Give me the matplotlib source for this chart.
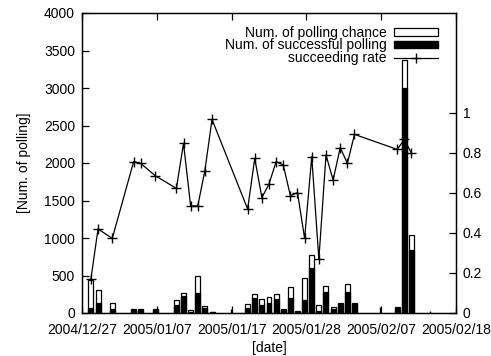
import matplotlib
matplotlib.use('Agg')
import matplotlib.pyplot as plt
import numpy as np
import pandas as pd
from matplotlib.patches import Patch
from matplotlib.lines import Line2D

plt.rcParams['font.family'] = ['Liberation Sans', 'DejaVu Sans']

# ---- data ----
dates = ['2004-12-28', '2004-12-29', '2004-12-31', '2005-01-03', '2005-01-04',
         '2005-01-06', '2005-01-09', '2005-01-10', '2005-01-11', '2005-01-12',
         '2005-01-13', '2005-01-14', '2005-01-19', '2005-01-20', '2005-01-21',
         '2005-01-22', '2005-01-23', '2005-01-24', '2005-01-25', '2005-01-26',
         '2005-01-27', '2005-01-28', '2005-01-29', '2005-01-30', '2005-01-31',
         '2005-02-01', '2005-02-02', '2005-02-03', '2005-02-09', '2005-02-10',
         '2005-02-11']
chance = [440, 310, 130, 50, 50, 50, 175, 270, 35, 500, 95, 20, 120, 255, 185,
          208, 250, 53, 343, 25, 470, 770, 107, 360, 76, 138, 382, 138, 75,
          3380, 1040]
success = [70, 130, 48, 40, 38, 36, 108, 230, 19, 265, 68, 19, 62, 198, 107,
           135, 190, 40, 200, 15, 175, 600, 29, 285, 50, 115, 286, 125, 62,
           3000, 835]
rate = [0.17, 0.42, 0.373, 0.757, 0.748, 0.687, 0.623, 0.848, 0.535, 0.535,
        0.712, 0.968, 0.52, 0.773, 0.577, 0.645, 0.757, 0.74, 0.587, 0.602,
        0.373, 0.782, 0.268, 0.79, 0.665, 0.827, 0.748, 0.893, 0.818, 0.868,
        0.798]
spike_dates = ['2005-01-17', '2005-02-07', '2005-02-14']
spike_values = [50, 80, 25]

tick_labels = ['2004/12/27', '2005/01/07', '2005/01/17', '2005/01/28',
               '2005/02/07', '2005/02/18']
y_ticks = [0, 500, 1000, 1500, 2000, 2500, 3000, 3500, 4000]
y2_ticks = [0, 0.2, 0.4, 0.6, 0.8, 1.0]
y2_labels = ['0', '0.2', '0.4', '0.6', '0.8', '1']

# ---- coordinates (days from 2004-12-27 12:00) ----
origin = pd.Timestamp('2004-12-27 12:00')


def to_days(ds, hours):
    return np.array([(pd.Timestamp(d) - origin) / pd.Timedelta(days=1)
                     for d in ds]) + hours / 24.0


x = to_days(dates, 18)
xs = to_days(spike_dates, 8.4)
tick_pos = np.arange(len(tick_labels)) * 10.5

fig = plt.figure(figsize=(4.91, 3.56), dpi=100)
ax = fig.add_axes([82 / 491, 43 / 356, 374 / 491, 300 / 356])

ax.bar(x, chance, width=0.7, color='white', edgecolor='black', linewidth=0.9,
       zorder=2)
ax.bar(x, success, width=0.7, color='black', edgecolor='black', linewidth=0.9,
       zorder=3)
ax.vlines(xs, 0, spike_values, color='black', linewidth=1.0, zorder=3)

ax.set_xlim(0, 52.5)
ax.set_ylim(0, 4000)
ax.set_xticks(tick_pos)
ax.set_xticklabels(tick_labels, fontsize=10)
ax.set_yticks(y_ticks)
ax.set_yticklabels([str(v) for v in y_ticks], fontsize=10)
ax.tick_params(direction='in', length=5, width=0.9, top=True, right=False)
ax.tick_params(axis='x', pad=7)
ax.tick_params(axis='y', pad=5)
ax.set_xlabel('[date]', fontsize=10, labelpad=3)
ax.set_ylabel('[Num. of polling]', fontsize=10, labelpad=9)
for s in ax.spines.values():
    s.set_linewidth(1.0)

ax2 = ax.twinx()
ax2.plot(x, rate, color='black', linewidth=0.9, marker='+', markersize=7,
         markeredgewidth=1.0, zorder=4)
ax2.set_ylim(0, 1.5)
ax2.set_yticks(y2_ticks)
ax2.set_yticklabels(y2_labels, fontsize=10)
ax2.tick_params(direction='in', length=5, width=0.9, pad=5)

handles = [Patch(facecolor='white', edgecolor='black', linewidth=0.9),
           Patch(facecolor='black', edgecolor='black'),
           Line2D([], [], color='black', linewidth=0.9, marker='+',
                  markersize=7, markeredgewidth=1.0)]
labels = ['Num. of polling chance', 'Num. of successful polling',
          'succeeding rate']
leg = ax2.legend(handles, labels, loc='upper right', frameon=False,
                 markerfirst=False, fontsize=10, handlelength=3.2,
                 handleheight=0.45, labelspacing=-0.1, handletextpad=0.5,
                 borderaxespad=0.2, bbox_to_anchor=(0.975, 0.985))
for t in leg.get_texts():
    t.set_ha('right')

fig.savefig('out.png', dpi=100)
